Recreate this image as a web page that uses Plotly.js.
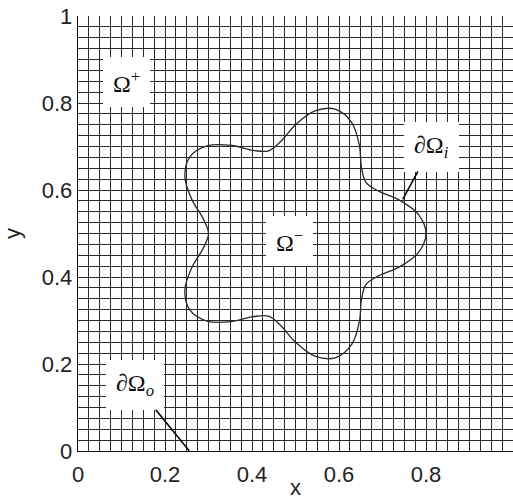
<!DOCTYPE html>
<html>
<head>
<meta charset="utf-8">
<script src="https://cdn.plot.ly/plotly-3.0.1.min.js"></script>
<style>
  html, body { margin: 0; padding: 0; background: #fff; }
  #plot { width: 513px; height: 500px; }
</style>
</head>
<body>
<div id="plot"></div>
<script>
// Interface ∂Ω_i: five-petal closed curve, sampled points (x, y)
const interfaceX = [0.8000, 0.7819, 0.7378, 0.6912, 0.6618, 0.6517, 0.6469, 0.6296,
                    0.5927, 0.5446, 0.5000, 0.4664, 0.4382, 0.4026, 0.3531, 0.2982,
                    0.2573, 0.2457, 0.2622, 0.2880, 0.3000, 0.2880, 0.2622, 0.2457,
                    0.2573, 0.2982, 0.3531, 0.4026, 0.4382, 0.4664, 0.5000, 0.5446,
                    0.5927, 0.6296, 0.6469, 0.6517, 0.6618, 0.6912, 0.7378, 0.7819];
const interfaceY = [0.5000, 0.5446, 0.5773, 0.5974, 0.6176, 0.6517, 0.7023, 0.7543,
                    0.7853, 0.7819, 0.7500, 0.7120, 0.6902, 0.6912, 0.7023, 0.7018,
                    0.6763, 0.6296, 0.5773, 0.5336, 0.5000, 0.4664, 0.4227, 0.3704,
                    0.3237, 0.2982, 0.2977, 0.3088, 0.3098, 0.2880, 0.2500, 0.2181,
                    0.2147, 0.2457, 0.2977, 0.3483, 0.3824, 0.4026, 0.4227, 0.4554];

// Region / boundary labels
const labelText = ['Ω<sup>+</sup>', 'Ω<sup>−</sup>', '∂Ω<sub><i>i</i></sub>', '∂Ω<sub><i>o</i></sub>'];
const labelX    = [0.1115, 0.487, 0.8126, 0.132];
const labelY    = [0.848, 0.483, 0.700, 0.152];
// Leader line targets (null = no leader line)
const pointerX  = [null, null, 0.7465, 0.256];
const pointerY  = [null, null, 0.5786, 0.0];

// Labelled ticks; the mesh lines fall every 0.025
const tickVals = [0, 0.2, 0.4, 0.6, 0.8, 1];
const tickText = ['0', '0.2', '0.4', '0.6', '0.8', '1'];
const meshStep = 0.025;

const gridColor = '#2a2a2a';
const sansFont = 'Liberation Sans, Arial, sans-serif';
const serifFont = 'Liberation Serif, Times New Roman, serif';

const curve = {
  x: interfaceX.concat([interfaceX[0]]),
  y: interfaceY.concat([interfaceY[0]]),
  type: 'scatter',
  mode: 'lines',
  line: { color: '#2a2a2a', width: 1.3, shape: 'spline', smoothing: 1 },
  hoverinfo: 'skip',
  showlegend: false
};

const annotations = labelText.map((t, i) => {
  const a = {
    text: t,
    font: { family: serifFont, size: 24, color: '#111' },
    bgcolor: '#ffffff',
    borderpad: 10,
    borderwidth: 0,
    xref: 'x', yref: 'y'
  };
  if (pointerX[i] === null) {
    a.x = labelX[i]; a.y = labelY[i];
    a.showarrow = false;
  } else {
    a.x = pointerX[i]; a.y = pointerY[i];
    a.ax = labelX[i]; a.ay = labelY[i];
    a.axref = 'x'; a.ayref = 'y';
    a.showarrow = true;
    a.arrowhead = 0;
    a.arrowwidth = 1.6;
    a.arrowcolor = '#111';
  }
  return a;
});

const axisCommon = {
  range: [0, 1],
  tickmode: 'array',
  tickvals: tickVals,
  ticktext: tickText,
  ticks: '',
  showgrid: true,
  gridcolor: gridColor,
  gridwidth: 1,
  minor: { tickmode: 'linear', tick0: 0, dtick: meshStep, showgrid: true,
           gridcolor: gridColor, gridwidth: 1, ticks: '' },
  zeroline: false,
  showline: true,
  linecolor: '#111',
  linewidth: 1.3,
  tickfont: { family: sansFont, size: 22, color: '#222' },
  fixedrange: true
};

const layout = {
  width: 513,
  height: 500,
  margin: { l: 78, r: 0, t: 16, b: 49 },
  paper_bgcolor: '#ffffff',
  plot_bgcolor: '#ffffff',
  showlegend: false,
  xaxis: Object.assign({}, axisCommon, {
    title: { text: 'x', font: { family: sansFont, size: 22, color: '#222' }, standoff: 7 },
    ticklabelstandoff: 3,
    automargin: false
  }),
  yaxis: Object.assign({}, axisCommon, {
    title: { text: 'y', font: { family: sansFont, size: 22, color: '#222' }, standoff: 20 },
    automargin: false
  }),
  annotations: annotations
};

Plotly.newPlot('plot', [curve], layout, { displayModeBar: false, staticPlot: true });
</script>
</body>
</html>
